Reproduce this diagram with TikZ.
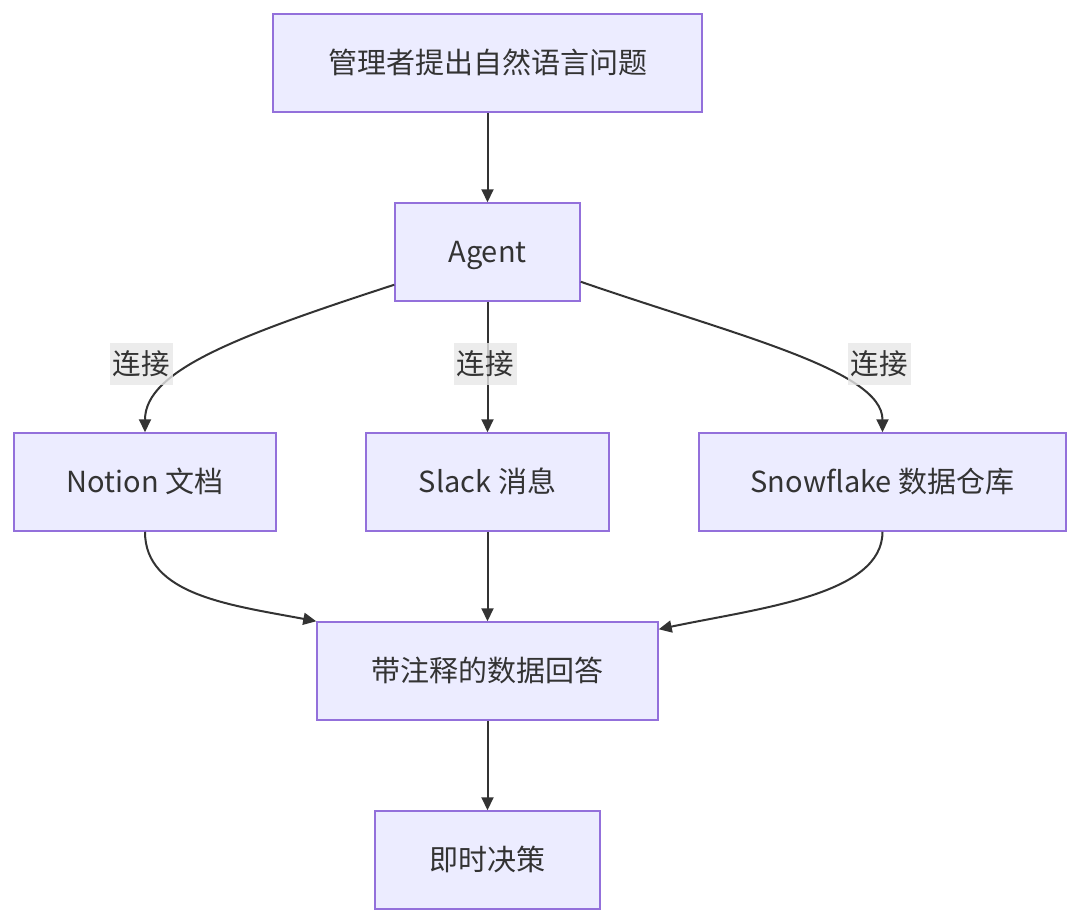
\documentclass[tikz,border=0pt]{standalone}
\usepackage{fontspec}
\setmainfont{Noto Sans CJK SC}
\usetikzlibrary{arrows.meta}
\definecolor{boxfill}{HTML}{ECECFF}
\definecolor{boxline}{HTML}{9370DB}
\definecolor{txt}{HTML}{333333}
\definecolor{lblbg}{HTML}{E8E8E8}
\begin{document}
\begin{tikzpicture}[x=1pt,y=-1pt,
  box/.style={draw=boxline,fill=boxfill,line width=1.5pt,minimum height=98pt,inner sep=0pt,
    text height=21pt,text depth=0pt,
    text=txt,font=\fontsize{29}{34}\selectfont},
  lbl/.style={fill=lblbg,fill opacity=0.8,text opacity=1,text=txt,inner sep=0pt,
    text height=21pt,text depth=0pt,
    minimum width=63pt,minimum height=42pt,font=\fontsize{28.5}{34}\selectfont},
  edge/.style={draw=txt,line width=2pt,-{Triangle[length=13pt,width=12pt]}}]
\useasboundingbox[fill=white] (0,0) rectangle (1080,924);
\node[box,minimum width=429pt] (q) at (487.5,63) {管理者提出自然语言问题};
\node[box,minimum width=185pt] (agent) at (487.5,252) {Agent};
\node[box,minimum width=262pt] (notion) at (145,482) {Notion 文档};
\node[box,minimum width=243pt] (slack) at (487.5,482) {Slack 消息};
\node[box,minimum width=367pt] (snow) at (882.5,482) {Snowflake 数据仓库};
\node[box,minimum width=341pt] (ans) at (487.5,671) {带注释的数据回答};
\node[box,minimum width=225pt] (dec) at (487.5,860) {即时决策};
\draw[edge] (q) -- (agent);
\draw[edge] ([yshift=17pt]agent.south west) .. controls (240,335) and (145,370) .. (notion.north);
\draw[edge] (agent) -- (slack);
\draw[edge] ([yshift=20pt]agent.south east) .. controls (735,335) and (882.5,370) .. (snow.north);
\draw[edge] (notion.south) .. controls (145,595) and (230,605) .. (ans.north west);
\draw[edge] (slack) -- (ans);
\draw[edge] (snow.south) .. controls (882.5,595) and (760,608) .. ([yshift=-8pt]ans.north east);
\draw[edge] (ans) -- (dec);
\node[lbl] (l1) at (141,364) {连接};
\node[lbl] (l2) at (485,364) {连接};
\node[lbl] (l3) at (879,364) {连接};
\end{tikzpicture}
\end{document}
